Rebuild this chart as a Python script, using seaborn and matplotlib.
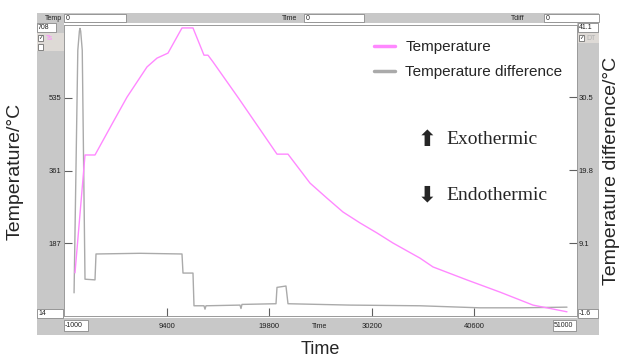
import matplotlib
matplotlib.use("Agg")
import matplotlib.pyplot as plt
from matplotlib.lines import Line2D
from matplotlib.patches import Rectangle
import pandas as pd
import seaborn as sns

# temperature trace (time, degC)
temp_time = [115, 1129, 2142, 3967, 5386, 7413, 8426, 9541, 10960, 12075, 13190, 13596,
             14103, 16738, 20590, 21705, 23935, 25658, 27280, 29003, 30726, 32348,
             35085, 36402, 39848, 43193, 46538, 49984]
temp_values = [117, 398, 398, 476, 536, 608, 629, 641, 701, 701, 636, 636,
               620, 532, 400, 400, 331, 295, 262, 236, 212, 188,
               152, 131, 100, 71, 40, 24]

# temperature difference trace (time, degC)
diff_time = [20, 400, 560, 622, 690, 850, 1129, 2142, 2244, 6700, 10960, 11062,
             12075, 12177, 13190, 13292, 13393, 16840, 16940, 17040, 20490, 20590,
             21500, 21705, 28000, 35085, 41170, 45220, 49985]
diff_values = [1.8, 37.4, 40.2, 40.6, 40.2, 37.4, 3.8, 3.7, 7.5, 7.6, 7.5, 4.7,
               4.7, -0.1, -0.1, -0.6, -0.1, 0.0, -0.5, 0.1, 0.2, 2.6,
               2.8, 0.2, 0.0, -0.1, -0.4, -0.4, -0.3]

time_ticks = [9400, 19800, 30200, 40600]
temp_ticks = [187.5, 361, 534.5]
temp_tick_labels = ["187", "361", "535"]
diff_ticks = [9.1, 19.8, 30.5]
diff_tick_labels = ["9.1", "19.8", "30.5"]
time_range = (-1000, 51000)
temp_range = (14, 708)
diff_range = (-1.6, 41.1)

PINK = "#ff88ff"
GREY = "#aaaaaa"
PANEL = "#c8c8c8"
W, H = 625, 362

sns.set_theme(style="white")
plt.rcParams["font.family"] = ["Liberation Sans", "DejaVu Sans"]


def fx(x):
    return x / W


def fy(y):
    return 1 - y / H


fig = plt.figure(figsize=(W / 100, H / 100), dpi=100)
fig.patch.set_facecolor("white")


def box(x0, y0, x1, y1, face, edge="none", z=-2):
    fig.add_artist(Rectangle((fx(x0), fy(y1)), (x1 - x0) / W, (y1 - y0) / H,
                             transform=fig.transFigure, facecolor=face,
                             edgecolor=edge, lw=0.6, zorder=z))


def ui_text(x, y, s, ha="left", color="#202020", size=5):
    fig.text(fx(x), fy(y), s, ha=ha, va="center", fontsize=size, color=color, zorder=3)


# window chrome
box(37, 13, 599, 23, PANEL)
box(37, 23, 64, 318, PANEL)
box(577, 23, 599, 318, PANEL)
box(37, 318, 599, 335, PANEL)
box(37, 33, 64, 51, "#dedad6", z=-1)
box(577, 33, 599, 43, "#dedad6", z=-1)

for x0, x1 in [(64, 126), (304, 364), (544, 599)]:
    box(x0, 14, x1, 22, "white", "#8a8a8a", z=-1)
    ui_text(x0 + 2, 18, "0")
ui_text(62, 18, "Temp", ha="right")
ui_text(297, 18, "Time", ha="right")
ui_text(525, 18, "Tdiff", ha="right")

box(37, 23, 56, 32, "white", "#8a8a8a", z=-1)
ui_text(38, 27.5, "708")
box(38, 35, 43, 41, "white", "#707070", z=-1)
ui_text(40.5, 38, "\u2713", ha="center", size=4)
ui_text(46, 38, "Ts", color=PINK)
box(38, 44, 43, 50, "white", "#707070", z=-1)
box(37, 309, 63, 318, "white", "#8a8a8a", z=-1)
ui_text(38, 313.5, "14")

box(578, 23, 598, 32, "white", "#8a8a8a", z=-1)
ui_text(579, 27.5, "41.1")
box(579, 35, 584, 41, "white", "#707070", z=-1)
ui_text(581.5, 38, "\u2713", ha="center", size=4)
ui_text(586, 38, "DT", color="#b0b0b0")
box(578, 309, 598, 318, "white", "#8a8a8a", z=-1)
ui_text(579, 313.5, "-1.6")

box(64, 320, 88, 331, "white", "#8a8a8a", z=-1)
ui_text(65, 325.5, "-1000")
box(553, 320, 576, 331, "white", "#8a8a8a", z=-1)
ui_text(554, 325.5, "51000")
ui_text(320, 326, "Time", ha="center")

# plot area
ax = fig.add_axes([fx(64), fy(316), (577 - 64) / W, (316 - 25) / H])
ax.set_facecolor("white")
ax2 = ax.twinx()

temp_df = pd.DataFrame({"time": temp_time, "temp": temp_values})
diff_df = pd.DataFrame({"time": diff_time, "diff": diff_values})
sns.lineplot(data=diff_df, x="time", y="diff", ax=ax2, color=GREY, lw=1.0,
             estimator=None, sort=False)
sns.lineplot(data=temp_df, x="time", y="temp", ax=ax, color=PINK, lw=1.0,
             estimator=None, sort=False)
ax.set_zorder(ax2.get_zorder() + 1)
ax.patch.set_visible(False)
ax2.patch.set_facecolor("white")

ax.set_xlim(*time_range)
ax.set_ylim(*temp_range)
ax2.set_ylim(*diff_range)
ax.set_xticks(time_ticks)
ax.set_xticklabels([str(t) for t in time_ticks])
ax.set_yticks(temp_ticks)
ax.set_yticklabels(temp_tick_labels)
ax2.set_yticks(diff_ticks)
ax2.set_yticklabels(diff_tick_labels)
ax.set_xlabel("")
ax.set_ylabel("")
ax2.set_ylabel("")

for a in (ax, ax2):
    a.tick_params(direction="in", length=6, width=0.8, color="#606060",
                  labelsize=5.5, labelcolor="#202020", pad=2)
    for s in a.spines.values():
        s.set_color("#9a9a9a")
        s.set_linewidth(0.6)
ax.tick_params(axis="x", pad=5, bottom=True)
ax.tick_params(axis="y", left=True)
ax2.tick_params(axis="y", right=True, pad=1)

handles = [Line2D([], [], color=PINK, lw=2.5), Line2D([], [], color=GREY, lw=2.5)]
ax.legend(handles, ["Temperature", "Temperature difference"], loc="upper left",
          bbox_to_anchor=(fx(374), fy(40)), bbox_transform=fig.transFigure,
          frameon=False, fontsize=11, handlelength=1.4, handletextpad=0.65,
          labelspacing=0.75, borderpad=0, borderaxespad=0)

fig.text(fx(427), fy(140), "\u2b06", ha="center", va="center", fontsize=16,
         family=["DejaVu Sans"], fontweight="bold")
fig.text(fx(427), fy(195), "\u2b07", ha="center", va="center", fontsize=16,
         family=["DejaVu Sans"], fontweight="bold")
fig.text(fx(446), fy(140), "Exothermic", ha="left", va="center", fontsize=14,
         family=["Liberation Serif"])
fig.text(fx(446), fy(195), "Endothermic", ha="left", va="center", fontsize=14,
         family=["Liberation Serif"])

fig.text(fx(15), fy(171), "Temperature/\u00b0C", rotation=90, ha="center",
         va="center", fontsize=14)
fig.text(fx(612), fy(171), "Temperature difference/\u00b0C", rotation=90,
         ha="center", va="center", fontsize=14)
fig.text(fx(320), fy(350), "Time", ha="center", va="center", fontsize=13)

fig.savefig("out.png", dpi=100)
